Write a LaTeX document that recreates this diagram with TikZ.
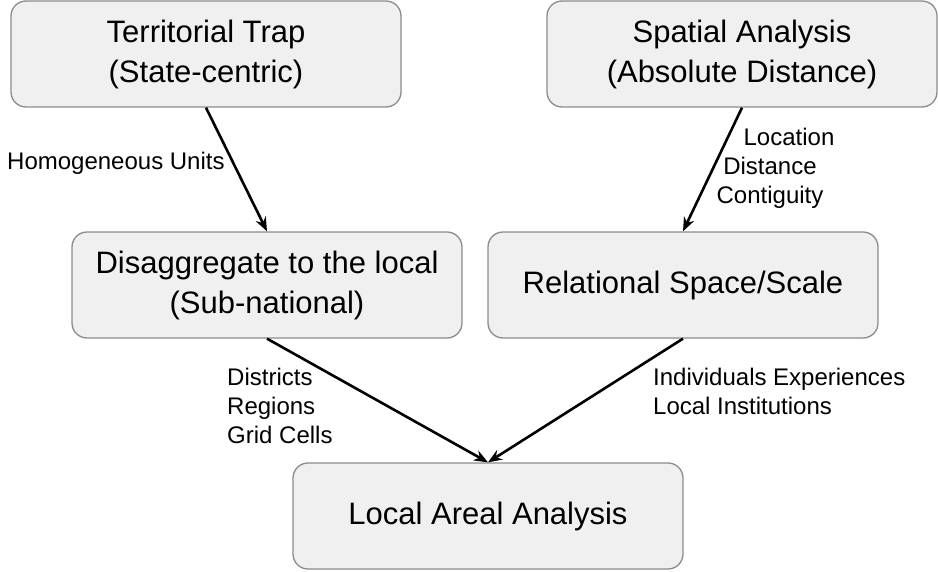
\documentclass[tikz,border=0pt]{standalone}
\usepackage{fontspec}
\setmainfont{Liberation Sans}
\usetikzlibrary{arrows.meta}
\definecolor{boxfill}{HTML}{F0F0F0}
\definecolor{boxline}{HTML}{8C8C8C}

\begin{document}
\begin{tikzpicture}[x=1pt,y=-1pt,
  box/.style={draw=boxline,line width=1.3pt,fill=boxfill,rounded corners=15pt,
    minimum width=390pt,minimum height=106pt,inner sep=0pt,align=center,
    font=\fontsize{31}{40}\selectfont},
  lbl/.style={inner sep=0pt,font=\fontsize{24}{29}\selectfont},
  link/.style={line width=2.6pt,-{Stealth[length=14pt,width=11pt]}}]
\useasboundingbox (0,0) rectangle (938,572);
\node[box] (terr) at (206,54) {Territorial Trap\\(State-centric)};
\node[box] (spat) at (742,54) {Spatial Analysis\\(Absolute Distance)};
\node[box] (disagg) at (267,285) {Disaggregate to the local\\(Sub-national)};
\node[box] (rel) at (683,285) {Relational Space/Scale};
\node[box] (local) at (488,516) {Local Areal Analysis};
\draw[link] (terr.south) -- (disagg.north);
\draw[link] (spat.south) -- (rel.north);
\draw[link] (disagg.south) -- (local.north);
\draw[link] (rel.south) -- (local.north);
\node[lbl,anchor=base west] (homog) at (7,170) {Homogeneous Units};
\node[lbl,align=center] (spatlbl) at (770,168) {\hspace*{38pt}Location\\Distance\\Contiguity};
\node[lbl,align=left,anchor=west] (disagglbl) at (227,406) {Districts\\Regions\\Grid Cells};
\node[lbl,align=left,anchor=west] (rellbl) at (653,391) {Individuals Experiences\\Local Institutions};
\end{tikzpicture}
\end{document}
